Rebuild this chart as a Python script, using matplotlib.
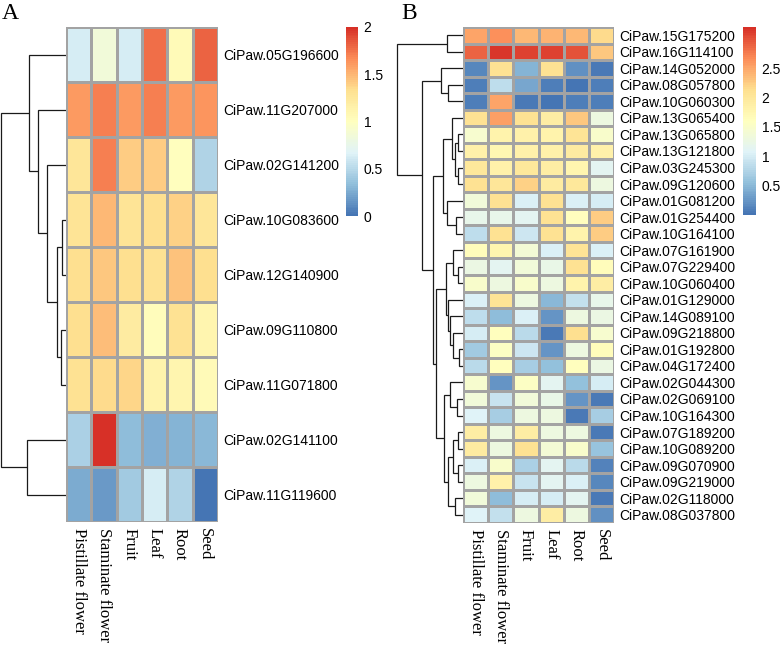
import numpy as np
import matplotlib
matplotlib.use("Agg")
import matplotlib.pyplot as plt
from matplotlib.colors import LinearSegmentedColormap, Normalize
from matplotlib.cm import ScalarMappable

tissues = ["Pistillate flower", "Staminate flower", "Fruit", "Leaf", "Root", "Seed"]

genes_A = ["CiPaw.05G196600", "CiPaw.11G207000", "CiPaw.02G141200", "CiPaw.10G083600",
           "CiPaw.12G140900", "CiPaw.09G110800", "CiPaw.11G071800", "CiPaw.02G141100",
           "CiPaw.11G119600"]
values_A = [
    [0.62, 0.84, 0.62, 1.77, 1.04, 1.81],
    [1.60, 1.70, 1.60, 1.71, 1.61, 1.62],
    [1.27, 1.71, 1.40, 1.41, 1.00, 0.46],
    [1.28, 1.49, 1.28, 1.33, 1.38, 1.27],
    [1.32, 1.42, 1.32, 1.30, 1.45, 1.32],
    [1.33, 1.46, 1.20, 1.03, 1.31, 1.10],
    [1.31, 1.35, 1.37, 1.12, 1.11, 1.04],
    [0.45, 2.00, 0.33, 0.27, 0.29, 0.31],
    [0.25, 0.17, 0.41, 0.63, 0.46, 0.00],
]
# dendrogram merges (left, right, height); leaves 0..n-1, clusters n+i
merges_A = [(3, 4, 0.4), (5, 6, 0.5), (9, 10, 0.9), (2, 11, 1.9), (1, 12, 2.8),
            (0, 13, 3.7), (7, 8, 3.9), (14, 15, 6.5)]
cbar_ticks_A = [0, 0.5, 1, 1.5, 2]

genes_B = ["CiPaw.15G175200", "CiPaw.16G114100", "CiPaw.14G052000", "CiPaw.08G057800",
           "CiPaw.10G060300", "CiPaw.13G065400", "CiPaw.13G065800", "CiPaw.13G121800",
           "CiPaw.03G245300", "CiPaw.09G120600", "CiPaw.01G081200", "CiPaw.01G254400",
           "CiPaw.10G164100", "CiPaw.07G161900", "CiPaw.07G229400", "CiPaw.10G060400",
           "CiPaw.01G129000", "CiPaw.14G089100", "CiPaw.09G218800", "CiPaw.01G192800",
           "CiPaw.04G172400", "CiPaw.02G044300", "CiPaw.02G069100", "CiPaw.10G164300",
           "CiPaw.07G189200", "CiPaw.10G089200", "CiPaw.09G070900", "CiPaw.09G219000",
           "CiPaw.02G118000", "CiPaw.08G037800"]
values_B = [
    [2.50, 2.65, 2.40, 2.42, 2.40, 2.15],
    [2.90, 3.15, 3.10, 3.10, 3.00, 2.30],
    [0.15, 2.10, 0.45, 2.10, 0.20, 0.06],
    [0.08, 0.85, 0.38, 0.08, 0.00, 0.07],
    [0.07, 2.50, 0.04, 0.02, 0.07, 0.07],
    [2.10, 2.55, 2.10, 1.90, 2.30, 1.30],
    [1.45, 1.80, 1.85, 1.80, 2.05, 1.50],
    [1.85, 1.75, 1.85, 1.85, 1.95, 1.85],
    [2.00, 1.85, 2.00, 1.90, 1.78, 1.15],
    [2.08, 2.02, 2.22, 1.95, 2.00, 1.30],
    [1.35, 2.08, 1.05, 2.08, 1.05, 1.00],
    [1.20, 1.20, 1.12, 2.08, 1.60, 2.25],
    [0.85, 2.08, 0.95, 2.08, 1.80, 2.25],
    [1.65, 1.78, 1.40, 1.05, 2.05, 1.05],
    [1.25, 1.12, 1.35, 1.22, 2.08, 1.65],
    [1.50, 1.28, 1.50, 1.28, 1.80, 1.90],
    [1.05, 2.05, 1.30, 0.50, 0.88, 1.20],
    [0.85, 0.53, 1.05, 0.25, 1.30, 1.25],
    [1.02, 1.62, 0.80, 0.05, 2.12, 1.45],
    [0.65, 1.55, 0.95, 0.25, 1.30, 1.65],
    [0.80, 1.62, 0.70, 0.55, 1.62, 1.25],
    [1.45, 0.23, 1.55, 1.12, 0.57, 1.02],
    [1.35, 0.90, 1.35, 1.22, 0.25, 0.05],
    [1.08, 0.68, 1.28, 1.28, 0.05, 0.70],
    [1.90, 1.30, 1.90, 1.28, 1.28, 0.05],
    [1.92, 1.30, 2.10, 1.38, 1.50, 0.60],
    [1.05, 1.50, 0.72, 1.12, 0.80, 0.10],
    [1.28, 1.85, 0.92, 1.12, 1.03, 0.15],
    [1.35, 0.52, 1.00, 1.00, 1.12, 0.05],
    [1.08, 0.87, 1.28, 1.90, 1.28, 0.20],
]
merges_B = [
    (0, 1, 1.6),     # 30
    (3, 4, 1.5),     # 31
    (2, 31, 2.2),    # 32
    (6, 7, 0.5),     # 33
    (8, 9, 0.5),     # 34
    (33, 34, 0.8),   # 35
    (5, 35, 1.1),    # 36
    (11, 12, 0.7),   # 37
    (10, 37, 1.6),   # 38
    (36, 38, 2.0),   # 39
    (14, 15, 0.5),   # 40
    (13, 40, 1.0),   # 41
    (19, 20, 0.4),   # 42
    (18, 42, 1.0),   # 43
    (17, 43, 1.3),   # 44
    (16, 44, 1.5),   # 45
    (41, 45, 1.7),   # 46
    (22, 23, 0.6),   # 47
    (21, 47, 1.3),   # 48
    (24, 25, 0.5),   # 49
    (26, 27, 0.5),   # 50
    (49, 50, 1.0),   # 51
    (28, 29, 0.8),   # 52
    (51, 52, 1.5),   # 53
    (48, 53, 1.9),   # 54
    (46, 54, 2.7),   # 55
    (39, 55, 3.0),   # 56
    (32, 56, 4.1),   # 57
    (30, 57, 6.6),   # 58
]
cbar_ticks_B = [0.5, 1, 1.5, 2, 2.5]

cmap = LinearSegmentedColormap.from_list(
    "rdylbu_r", ["#4575B4", "#91BFDB", "#E0F3F8", "#FFFFBF", "#FEE090", "#FC8D59", "#D73027"], N=100)

W, H = 780, 647
fig = plt.figure(figsize=(W / 100, H / 100), dpi=100)


def fax(x0, y0, x1, y1):
    return fig.add_axes([x0 / W, 1 - y1 / H, (x1 - x0) / W, (y1 - y0) / H])


def draw_dendro(ax, merges, n, xmax):
    ypos = {i: i + 0.5 for i in range(n)}
    hts = {i: 0.0 for i in range(n)}
    for k, (a, b, h) in enumerate(merges):
        ya, yb = ypos[a], ypos[b]
        ax.plot([hts[a], h, h, hts[b]], [ya, ya, yb, yb], color="#1a1a1a", lw=0.9,
                solid_joinstyle="miter", solid_capstyle="butt")
        ypos[n + k] = (ya + yb) / 2
        hts[n + k] = h
    ax.set_xlim(xmax, 0)
    ax.set_ylim(n, 0)
    ax.axis("off")


def draw_heat(ax, vals, genes, vmin, vmax):
    data = np.array(vals)
    nr, nc = data.shape
    ax.pcolormesh(np.arange(nc + 1), np.arange(nr + 1), data, cmap=cmap, vmin=vmin, vmax=vmax,
                  edgecolors="#A3A3A3", linewidth=0.9)
    ax.set_xlim(0, nc)
    ax.set_ylim(nr, 0)
    for s in ax.spines.values():
        s.set_visible(False)
    ax.yaxis.tick_right()
    ax.set_yticks(np.arange(nr) + 0.5)
    ax.set_yticklabels(genes, fontsize=10, family="Liberation Sans")
    ax.set_xticks(np.arange(nc) + 0.5)
    ax.set_xticklabels(tissues, rotation=-90, fontsize=12, family="Liberation Serif",
                       va="top", ha="center")
    ax.tick_params(length=0, pad=4)


def draw_cbar(cax, vmin, vmax, ticks):
    cb = fig.colorbar(ScalarMappable(norm=Normalize(vmin, vmax), cmap=cmap), cax=cax)
    cb.outline.set_visible(False)
    cb.set_ticks(ticks)
    cb.set_ticklabels([f"{t:g}" for t in ticks])
    cax.tick_params(length=0, pad=4, labelsize=10)
    for lab in cax.get_yticklabels():
        lab.set_family("Liberation Sans")


# Panel A
axdA = fax(0, 27, 66, 522)
draw_dendro(axdA, merges_A, len(genes_A), 6.6)
axA = fax(66, 27, 218, 522)
draw_heat(axA, values_A, genes_A, 0, 2)
caxA = fax(346, 27, 358, 216)
draw_cbar(caxA, 0, 2, cbar_ticks_A)

# Panel B
axdB = fax(395, 27, 463, 523)
draw_dendro(axdB, merges_B, len(genes_B), 6.8)
axB = fax(463, 27, 614, 523)
draw_heat(axB, values_B, genes_B, 0, 3.2)
caxB = fax(743, 27, 756, 215)
draw_cbar(caxB, 0, 3.2, cbar_ticks_B)

fig.text(2 / W, 1 - 19 / H, "A", fontsize=17, family="Liberation Serif", va="baseline")
fig.text(401 / W, 1 - 19 / H, "B", fontsize=17, family="Liberation Serif", va="baseline")

fig.savefig("out.png", dpi=100)
